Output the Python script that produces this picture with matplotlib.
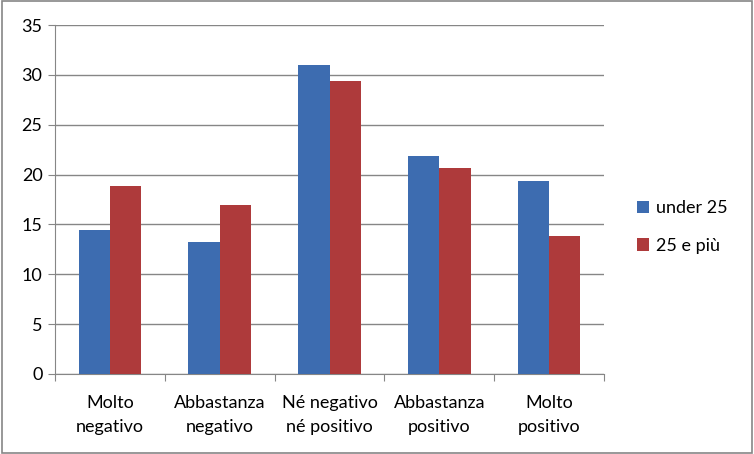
import matplotlib.pyplot as plt
import numpy as np
from matplotlib.patches import Rectangle

# ---------- data
categories = ['Molto\nnegativo', 'Abbastanza\nnegativo', 'Né negativo\nné positivo',
              'Abbastanza\npositivo', 'Molto\npositivo']
under25 = [14.4, 13.2, 31.0, 21.9, 19.4]
over25 = [18.9, 16.9, 29.4, 20.7, 13.8]
series_names = ['under 25', '25 e più']
colors = ['#3D6CB0', '#AE3A3B']

plt.rcParams['font.family'] = ['Lato', 'DejaVu Sans']
fs = 13

fig = plt.figure(figsize=(7.54, 4.54), dpi=100)
ax = fig.add_axes([55 / 754, 1 - 374 / 454, (604 - 55) / 754, (374 - 25) / 454])

x = np.arange(len(categories))
w = 0.285
ax.bar(x - w / 2, under25, w, color=colors[0], label=series_names[0], zorder=3)
ax.bar(x + w / 2, over25, w, color=colors[1], label=series_names[1], zorder=3)

ax.set_xlim(-0.5, len(categories) - 0.5)
ax.set_ylim(0, 35)
ax.set_yticks(range(0, 36, 5))
ax.yaxis.grid(True, color='#868686', linewidth=1, zorder=0)
ax.tick_params(axis='y', length=5, color='#868686', labelsize=fs, pad=4)

# category labels between boundary ticks
ax.set_xticks(np.arange(-0.5, len(categories)), minor=False)
ax.set_xticklabels([])
ax.tick_params(axis='x', length=5, color='#868686')
ax.set_xticks(x, minor=True)
ax.set_xticklabels(categories, minor=True, fontsize=fs, linespacing=1.6)
ax.tick_params(axis='x', which='minor', length=0, pad=15)

for s in ['top', 'right']:
    ax.spines[s].set_visible(False)
for s in ['left', 'bottom']:
    ax.spines[s].set_color('#868686')

fig.legend(loc='center left', bbox_to_anchor=(637 / 754, 0.5), frameon=False,
           fontsize=fs, handlelength=0.65, handleheight=0.65, handletextpad=0.4,
           labelspacing=1.2, borderpad=0, borderaxespad=0)

fig.patches.append(Rectangle((0.002, 0.003), 0.995, 0.994, transform=fig.transFigure,
                             fill=False, edgecolor='#868686', linewidth=1.2))

fig.savefig('out.png', dpi=100)
